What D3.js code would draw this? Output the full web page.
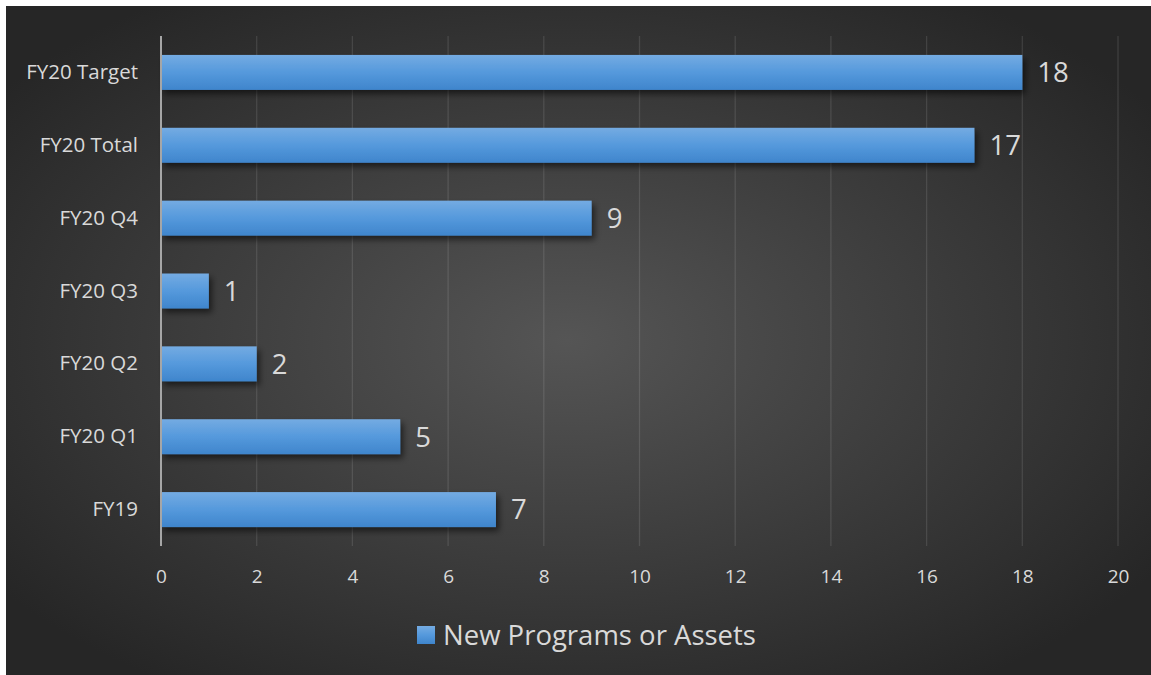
<!DOCTYPE html>
<html>
<head>
<meta charset="utf-8">
<script src="https://cdn.jsdelivr.net/npm/d3@7"></script>
<style>
  html, body { margin: 0; padding: 0; background: #ffffff; }
  svg { display: block; }
  text { font-family: "Open Sans", "Noto Sans", sans-serif; }
</style>
</head>
<body>
<svg id="chart" width="1151" height="675"></svg>
<script>
// Category labels, top to bottom
const categories = ["FY20 Target", "FY20 Total", "FY20 Q4", "FY20 Q3", "FY20 Q2", "FY20 Q1", "FY19"];
// Count of new programs or assets per period
const values = [18, 17, 9, 1, 2, 5, 7];
// Horizontal axis ticks
const ticks = [0, 2, 4, 6, 8, 10, 12, 14, 16, 18, 20];
const seriesName = "New Programs or Assets";

const W = 1151, H = 675;
const svg = d3.select("#chart");
const defs = svg.append("defs");

// dark radial backdrop
const bg = defs.append("radialGradient").attr("id", "bg")
  .attr("cx", "0.49").attr("cy", "0.5").attr("r", "0.62");
bg.append("stop").attr("offset", "0").attr("stop-color", "#555555");
bg.append("stop").attr("offset", "1").attr("stop-color", "#262626");

const barGrad = defs.append("linearGradient").attr("id", "barGrad")
  .attr("x1", 0).attr("y1", 0).attr("x2", 0).attr("y2", 1);
barGrad.append("stop").attr("offset", "0").attr("stop-color", "#74abe2");
barGrad.append("stop").attr("offset", "0.5").attr("stop-color", "#5599dc");
barGrad.append("stop").attr("offset", "1").attr("stop-color", "#3f85cc");

const shadow = defs.append("filter").attr("id", "shadow")
  .attr("x", "-10%").attr("y", "-30%").attr("width", "130%").attr("height", "180%");
shadow.append("feDropShadow").attr("dx", 3).attr("dy", 4).attr("stdDeviation", 3)
  .attr("flood-color", "#000").attr("flood-opacity", 0.55);

svg.append("rect").attr("x", 6).attr("y", 6).attr("width", W - 6).attr("height", H - 6)
  .attr("fill", "url(#bg)");

const plot = { left: 161, right: 1118, top: 36, bottom: 546 };

const x = d3.scaleLinear().domain([0, 20]).range([plot.left, plot.right]);
const y = d3.scaleBand().domain(categories).range([plot.top, plot.bottom]).paddingInner(0.52).paddingOuter(0.26);

// vertical gridlines
svg.append("g").selectAll("line").data(ticks.slice(1)).join("line")
  .attr("x1", d => x(d)).attr("x2", d => x(d))
  .attr("y1", plot.top).attr("y2", plot.bottom)
  .attr("stroke", "#ffffff").attr("stroke-opacity", 0.11).attr("stroke-width", 1.3);

// bars
svg.append("g").selectAll("rect").data(values).join("rect")
  .attr("x", x(0))
  .attr("y", (d, i) => y(categories[i]))
  .attr("width", d => x(d) - x(0))
  .attr("height", y.bandwidth())
  .attr("fill", "url(#barGrad)")
  .attr("filter", "url(#shadow)");

// category axis line
svg.append("line").attr("x1", x(0)).attr("x2", x(0))
  .attr("y1", plot.top).attr("y2", plot.bottom)
  .attr("stroke", "#a6a6a6").attr("stroke-width", 2);

// value labels
svg.append("g").selectAll("text").data(values).join("text")
  .attr("x", d => x(d) + 15)
  .attr("y", (d, i) => y(categories[i]) + y.bandwidth() / 2)
  .attr("dy", "0.36em")
  .attr("fill", "#d9d9d9").attr("font-size", 27.5)
  .text(d => d);

// category labels
const yAxis = d3.axisLeft(y).tickSize(0).tickPadding(23);
const ya = svg.append("g").attr("transform", `translate(${x(0)},0)`).call(yAxis);
ya.select(".domain").remove();
ya.selectAll("text").attr("fill", "#d9d9d9").attr("font-size", 20.5)
  .style("font-family", "\"Open Sans\", sans-serif");

// value axis tick labels
const xAxis = d3.axisBottom(x).tickValues(ticks).tickSize(0).tickPadding(0).tickFormat(d3.format("d"));
const xa = svg.append("g").attr("transform", `translate(0,${plot.bottom + 23})`).call(xAxis);
xa.select(".domain").remove();
xa.selectAll("text").attr("fill", "#d9d9d9").attr("font-size", 19).attr("dy", "0.71em")
  .style("font-family", "\"Open Sans\", sans-serif");

// legend
const lg = svg.append("g").attr("transform", "translate(417,626)");
lg.append("rect").attr("width", 18).attr("height", 18).attr("fill", "url(#barGrad)");
lg.append("text").attr("x", 26).attr("y", 9).attr("dy", "0.36em")
  .attr("fill", "#d9d9d9").attr("font-size", 27.5).text(seriesName);
</script>
</body>
</html>
